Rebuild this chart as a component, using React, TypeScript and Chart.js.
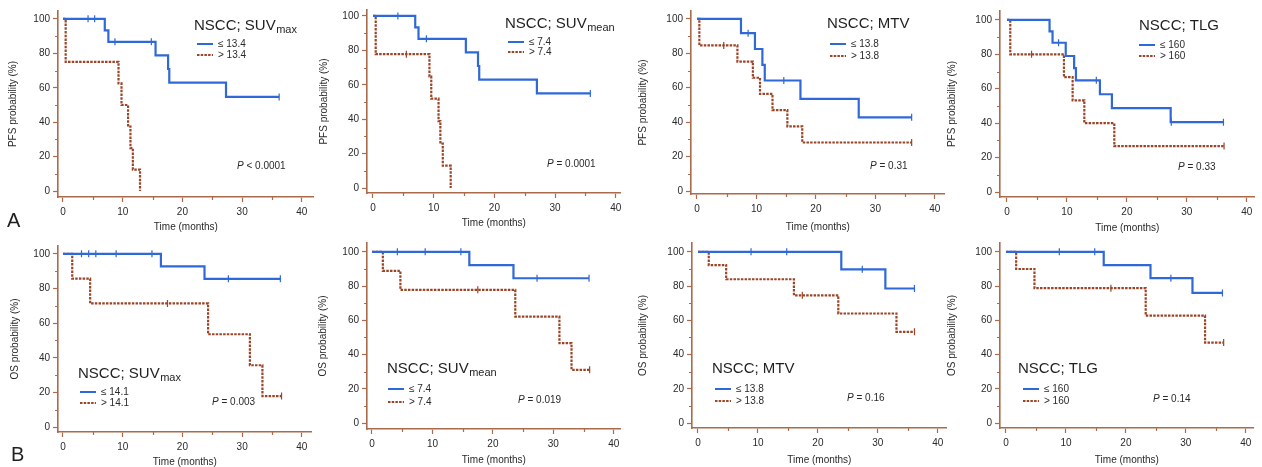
import React, { useEffect, useRef } from 'react';
import { Chart, registerables } from 'chart.js';

Chart.register(...registerables);

// ---------------- Data ----------------
const xTicks = [0, 10, 20, 30, 40];
const yTicks = [0, 20, 40, 60, 80, 100];
const xMinorTicks = [5, 15, 25, 35];
const yMinorTicks = [10, 30, 50, 70, 90];

const yTitles = ['PFS probability (%)', 'OS probability (%)'];
const xTitle = 'Time (months)';
const panelLetters = ['A', 'B'];

const titleMain = ['NSCC; SUV', 'NSCC; SUV', 'NSCC; MTV', 'NSCC; TLG', 'NSCC; SUV', 'NSCC; SUV', 'NSCC; MTV', 'NSCC; TLG'];
const titleSub = ['max', 'mean', '', '', 'max', 'mean', '', ''];
const lowLabels = ['≤ 13.4', '≤ 7.4', '≤ 13.8', '≤ 160', '≤ 14.1', '≤ 7.4', '≤ 13.8', '≤ 160'];
const highLabels = ['> 13.4', '> 7.4', '> 13.8', '> 160', '> 14.1', '> 7.4', '> 13.8', '> 160'];
const pTexts = ['< 0.0001', '= 0.0001', '= 0.31', '= 0.33', '= 0.003', '= 0.019', '= 0.16', '= 0.14'];

// Panel 1: PFS, SUVmax
const p1LowT = [0, 7.0, 7.6, 15.5, 17.6, 17.8, 27.3, 36.2];
const p1LowS = [100, 93.3, 86.7, 78.8, 70.9, 63.0, 54.7, 54.7];
const p1LowCT = [4.2, 5.3, 8.7, 14.8, 36.2];
const p1LowCS = [100, 100, 86.7, 86.7, 54.7];
const p1HighT = [0, 0.45, 9.3, 9.8, 10.9, 11.3, 11.7, 12.9];
const p1HighS = [100, 75, 62.5, 50, 37.5, 25, 12.5, 0];
const p1HighCT: number[] = [];
const p1HighCS: number[] = [];

// Panel 2: PFS, SUVmean
const p2LowT = [0, 6.96, 7.5, 15.3, 17.3, 17.5, 27.0, 35.8];
const p2LowS = [100, 93.3, 86.7, 78.8, 70.9, 63.0, 55.0, 55.0];
const p2LowCT = [4.1, 8.8, 35.8];
const p2LowCS = [100, 86.7, 55.0];
const p2HighT = [0, 0.45, 9.3, 9.6, 10.8, 11.1, 11.5, 12.8];
const p2HighS = [100, 77.8, 64.8, 51.9, 38.9, 25.9, 13.0, 0];
const p2HighCT = [5.5];
const p2HighCS = [77.8];

// Panel 3: PFS, MTV
const p3LowT = [0, 7.4, 9.75, 11.0, 11.4, 17.4, 27.2, 36.1];
const p3LowS = [100, 91.7, 82.5, 73.3, 64.2, 53.5, 42.8, 42.8];
const p3LowCT = [8.6, 14.6, 36.1];
const p3LowCS = [91.7, 64.2, 42.8];
const p3HighT = [0, 0.4, 6.8, 9.4, 10.6, 12.7, 15.2, 17.7, 36.1];
const p3HighS = [100, 84.6, 75.2, 65.8, 56.4, 47.0, 37.6, 28.2, 28.2];
const p3HighCT = [4.5, 36.1];
const p3HighCS = [84.6, 28.2];

// Panel 4: PFS, TLG
const p4LowT = [0, 7.1, 7.6, 9.8, 11.2, 11.5, 15.5, 17.5, 27.3, 36.1];
const p4LowS = [100, 93.3, 86.7, 79.0, 72.0, 64.9, 56.8, 48.7, 40.6, 40.6];
const p4LowCT = [8.6, 14.9, 27.4, 36.1];
const p4LowCS = [86.7, 64.9, 40.6, 40.6];
const p4HighT = [0, 0.55, 9.5, 10.95, 12.9, 17.9, 36.2];
const p4HighS = [100, 80, 66.7, 53.3, 40, 26.7, 26.7];
const p4HighCT = [4.1, 36.2];
const p4HighCS = [80, 26.7];

// Panel 5: OS, SUVmax
const p5LowT = [0, 16.4, 23.7, 36.4];
const p5LowS = [100, 92.8, 85.6, 85.6];
const p5LowCT = [3.1, 4.3, 5.5, 8.9, 14.9, 27.7, 36.4];
const p5LowCS = [100, 100, 100, 100, 100, 85.6, 85.6];
const p5HighT = [0, 1.55, 4.55, 24.3, 31.3, 33.4, 36.6];
const p5HighS = [100, 85.7, 71.4, 53.6, 35.7, 17.9, 17.9];
const p5HighCT = [17.5, 36.6];
const p5HighCS = [71.4, 17.9];

// Panel 6: OS, SUVmean
const p6LowT = [0, 16.1, 23.4, 35.9];
const p6LowS = [100, 92.3, 84.6, 84.6];
const p6LowCT = [4.2, 8.8, 14.7, 27.3, 35.9];
const p6LowCS = [100, 100, 100, 84.6, 84.6];
const p6HighT = [0, 1.8, 4.7, 23.7, 31.0, 33.0, 36.0];
const p6HighS = [100, 88.9, 77.8, 62.2, 46.7, 31.1, 31.1];
const p6HighCT = [17.5, 36.0];
const p6HighCS = [77.8, 31.1];

// Panel 7: OS, MTV
const p7LowT = [0, 23.9, 31.25, 36.1];
const p7LowS = [100, 89.8, 78.6, 78.6];
const p7LowCT = [8.85, 14.8, 27.4, 36.1];
const p7LowCS = [100, 100, 89.8, 78.6];
const p7HighT = [0, 1.8, 4.7, 16.0, 23.4, 33.1, 36.1];
const p7HighS = [100, 92.3, 84.0, 74.6, 64.0, 53.3, 53.3];
const p7HighCT = [17.4, 36.1];
const p7HighCS = [74.6, 53.3];

// Panel 8: OS, TLG
const p8LowT = [0, 16.3, 24.1, 31.1, 36.1];
const p8LowS = [100, 92.3, 84.6, 76.0, 76.0];
const p8LowCT = [8.9, 14.8, 27.5, 36.1];
const p8LowCS = [100, 100, 84.6, 76.0];
const p8HighT = [0, 1.7, 4.75, 23.3, 33.2, 36.3];
const p8HighS = [100, 90, 78.8, 62.8, 47.0, 47.0];
const p8HighCT = [17.5, 36.3];
const p8HighCS = [78.8, 47.0];

const panelData = [
  { lowT: p1LowT, lowS: p1LowS, lowCT: p1LowCT, lowCS: p1LowCS, highT: p1HighT, highS: p1HighS, highCT: p1HighCT, highCS: p1HighCS },
  { lowT: p2LowT, lowS: p2LowS, lowCT: p2LowCT, lowCS: p2LowCS, highT: p2HighT, highS: p2HighS, highCT: p2HighCT, highCS: p2HighCS },
  { lowT: p3LowT, lowS: p3LowS, lowCT: p3LowCT, lowCS: p3LowCS, highT: p3HighT, highS: p3HighS, highCT: p3HighCT, highCS: p3HighCS },
  { lowT: p4LowT, lowS: p4LowS, lowCT: p4LowCT, lowCS: p4LowCS, highT: p4HighT, highS: p4HighS, highCT: p4HighCT, highCS: p4HighCS },
  { lowT: p5LowT, lowS: p5LowS, lowCT: p5LowCT, lowCS: p5LowCS, highT: p5HighT, highS: p5HighS, highCT: p5HighCT, highCS: p5HighCS },
  { lowT: p6LowT, lowS: p6LowS, lowCT: p6LowCT, lowCS: p6LowCS, highT: p6HighT, highS: p6HighS, highCT: p6HighCT, highCS: p6HighCS },
  { lowT: p7LowT, lowS: p7LowS, lowCT: p7LowCT, lowCS: p7LowCS, highT: p7HighT, highS: p7HighS, highCT: p7HighCT, highCS: p7HighCS },
  { lowT: p8LowT, lowS: p8LowS, lowCT: p8LowCT, lowCS: p8LowCS, highT: p8HighT, highS: p8HighS, highCT: p8HighCT, highCS: p8HighCS },
];

// ---------------- Layout (page pixels) ----------------
type Layout = {
  axisX: number; x0: number; x40: number; rightEnd: number;
  topEnd: number; y100: number; y0: number; axisY: number;
  yTitleOff: number; xTitleOff: number;
  title: [number, number]; legend: [number, number, number]; p: [number, number];
};

const layouts: Layout[] = [
  { axisX: 58, x0: 63, x40: 303, rightEnd: 315, topEnd: 8, y100: 16, y0: 191, axisY: 197, yTitleOff: 45, xTitleOff: 30, title: [194, 30], legend: [197, 44, 55], p: [237, 166] },
  { axisX: 367, x0: 373, x40: 617, rightEnd: 622, topEnd: 7, y100: 13, y0: 188, axisY: 193, yTitleOff: 43, xTitleOff: 30, title: [505, 28], legend: [508, 42, 52], p: [547, 164] },
  { axisX: 691, x0: 697, x40: 936, rightEnd: 946, topEnd: 8, y100: 16, y0: 191, axisY: 194, yTitleOff: 48, xTitleOff: 33, title: [827, 28], legend: [830, 44, 56], p: [870, 166] },
  { axisX: 1000, x0: 1007, x40: 1248, rightEnd: 1256, topEnd: 8, y100: 17, y0: 192, axisY: 197, yTitleOff: 48, xTitleOff: 31, title: [1139, 30], legend: [1139, 45, 56], p: [1178, 167] },
  { axisX: 58, x0: 63, x40: 303, rightEnd: 313, topEnd: 243, y100: 251, y0: 427, axisY: 432, yTitleOff: 43, xTitleOff: 30, title: [78, 378], legend: [80, 392, 403], p: [212, 402] },
  { axisX: 367, x0: 372, x40: 615, rightEnd: 622, topEnd: 240, y100: 249, y0: 423, axisY: 429, yTitleOff: 44, xTitleOff: 31, title: [387, 373], legend: [388, 389, 402], p: [518, 400] },
  { axisX: 692, x0: 698, x40: 939, rightEnd: 948, topEnd: 240, y100: 249, y0: 423, axisY: 428, yTitleOff: 49, xTitleOff: 32, title: [712, 373], legend: [715, 389, 401], p: [847, 398] },
  { axisX: 1000, x0: 1006, x40: 1247, rightEnd: 1255, topEnd: 240, y100: 249, y0: 423, axisY: 428, yTitleOff: 48, xTitleOff: 32, title: [1018, 373], legend: [1023, 389, 401], p: [1153, 399] },
];

const AXIS = '#ab6a4a';
const BLUE = '#2f68d8';
const RED = '#9a4528';
const TEXT = '#2a2a2a';
const FONT = '"Liberation Sans", Arial, Helvetica, sans-serif';
const LW = 56;
const BH = 40;
const TP = 6;
const RP = 4;

const pts = (t: number[], s: number[]) => t.map((x, i) => ({ x, y: s[i] }));

function Panel({ idx }: { idx: number }) {
  const ref = useRef<HTMLCanvasElement>(null);
  const L = layouts[idx];
  const left = L.axisX - LW;
  const top = L.topEnd - TP;
  const width = L.rightEnd + RP - left;
  const height = L.axisY + BH - top;

  useEffect(() => {
    const d = panelData[idx];
    const pxX = (L.x40 - L.x0) / 40;
    const xMin = (L.axisX - L.x0) / pxX;
    const xMax = (L.rightEnd - L.x0) / pxX;
    const pxY = (L.y0 - L.y100) / 100;
    const yMin = -(L.axisY - L.y0) / pxY;
    const yMax = 100 + (L.y100 - L.topEnd) / pxY;

    const annot = {
      id: 'annot' + idx,
      afterDraw(chart: any) {
        const ctx = chart.ctx as CanvasRenderingContext2D;
        const xs = chart.scales.x;
        const ys = chart.scales.y;
        const ca = chart.chartArea;
        ctx.save();
        // minor ticks
        ctx.strokeStyle = AXIS;
        ctx.lineWidth = 1.2;
        ctx.beginPath();
        xMinorTicks.forEach((v) => {
          const px = Math.round(xs.getPixelForValue(v)) + 0.5;
          ctx.moveTo(px, ca.bottom);
          ctx.lineTo(px, ca.bottom + 3);
        });
        yMinorTicks.forEach((v) => {
          const py = Math.round(ys.getPixelForValue(v)) + 0.5;
          ctx.moveTo(ca.left, py);
          ctx.lineTo(ca.left - 3, py);
        });
        ctx.stroke();

        // title
        ctx.fillStyle = '#1f1f1f';
        ctx.textAlign = 'left';
        ctx.textBaseline = 'alphabetic';
        ctx.font = `15px ${FONT}`;
        const tx = L.title[0] - left;
        const ty = L.title[1] - top;
        ctx.fillText(titleMain[idx], tx, ty);
        if (titleSub[idx]) {
          const w = ctx.measureText(titleMain[idx]).width;
          ctx.font = `11px ${FONT}`;
          ctx.fillText(titleSub[idx], tx + w + 0.5, ty + 2.5);
        }

        // legend
        const lx = L.legend[0] - left;
        const ly1 = L.legend[1] - top;
        const ly2 = L.legend[2] - top;
        ctx.lineWidth = 2;
        ctx.strokeStyle = BLUE;
        ctx.setLineDash([]);
        ctx.beginPath();
        ctx.moveTo(lx, ly1);
        ctx.lineTo(lx + 16, ly1);
        ctx.stroke();
        ctx.strokeStyle = RED;
        ctx.setLineDash([2.5, 1.2]);
        ctx.beginPath();
        ctx.moveTo(lx, ly2);
        ctx.lineTo(lx + 16, ly2);
        ctx.stroke();
        ctx.setLineDash([]);
        ctx.fillStyle = TEXT;
        ctx.font = `10px ${FONT}`;
        ctx.textBaseline = 'middle';
        ctx.fillText(lowLabels[idx], lx + 21, ly1);
        ctx.fillText(highLabels[idx], lx + 21, ly2);

        // P value
        const px0 = L.p[0] - left;
        const py0 = L.p[1] - top;
        ctx.font = `italic 10px ${FONT}`;
        ctx.fillText('P', px0, py0);
        const pw = ctx.measureText('P').width;
        ctx.font = `10px ${FONT}`;
        ctx.fillText(' ' + pTexts[idx], px0 + pw, py0);
        ctx.restore();
      },
    };

    const chart = new Chart(ref.current as HTMLCanvasElement, {
      type: 'line',
      data: {
        datasets: [
          { data: pts(d.lowT, d.lowS), borderColor: BLUE, borderWidth: 2.2, stepped: true, pointRadius: 0, fill: false } as any,
          { data: pts(d.highT, d.highS), borderColor: RED, borderWidth: 2.2, borderDash: [2.5, 1.2], stepped: true, pointRadius: 0, fill: false } as any,
          { data: pts(d.lowCT, d.lowCS), showLine: false, pointStyle: 'line', rotation: 90, pointRadius: 3.5, borderColor: BLUE, backgroundColor: BLUE, borderWidth: 1.2 } as any,
          { data: pts(d.highCT, d.highCS), showLine: false, pointStyle: 'line', rotation: 90, pointRadius: 3.5, borderColor: RED, backgroundColor: RED, borderWidth: 1.2 } as any,
        ],
      },
      options: {
        animation: false,
        responsive: false,
        devicePixelRatio: 1,
        layout: { padding: { left: 0, top: TP, right: RP, bottom: 0 } },
        plugins: { legend: { display: false }, tooltip: { enabled: false } },
        scales: {
          x: {
            type: 'linear',
            min: xMin,
            max: xMax,
            afterBuildTicks: (s: any) => { s.ticks = xTicks.map((v) => ({ value: v })); },
            afterFit: (s: any) => { s.height = BH; },
            ticks: { autoSkip: false, maxRotation: 0, padding: 4, color: TEXT, font: { size: 10, family: FONT } },
            grid: { display: true, drawOnChartArea: false, drawTicks: true, tickLength: 5, tickColor: AXIS, tickWidth: 1.2 },
            border: { display: true, color: AXIS, width: 1.6 },
            title: { display: true, text: xTitle, color: TEXT, font: { size: 10, family: FONT }, padding: { top: 0, bottom: BH - L.xTitleOff - 6 } },
          },
          y: {
            type: 'linear',
            min: yMin,
            max: yMax,
            afterBuildTicks: (s: any) => { s.ticks = yTicks.map((v) => ({ value: v })); },
            afterFit: (s: any) => { s.width = LW; },
            ticks: { autoSkip: false, padding: 3, color: TEXT, font: { size: 10, family: FONT } },
            grid: { display: true, drawOnChartArea: false, drawTicks: true, tickLength: 5, tickColor: AXIS, tickWidth: 1.2 },
            border: { display: true, color: AXIS, width: 1.6 },
            title: { display: true, text: yTitles[idx < 4 ? 0 : 1], color: TEXT, font: { size: 10, family: FONT }, padding: { top: LW - L.yTitleOff - 6, bottom: 0 } },
          },
        },
      } as any,
      plugins: [annot],
    });
    return () => chart.destroy();
  }, [idx]);

  return (
    <canvas
      ref={ref}
      width={width}
      height={height}
      style={{ position: 'absolute', left, top, width, height }}
    />
  );
}

export default function App() {
  return (
    <div style={{ position: 'absolute', left: 0, top: 0, width: 1262, height: 467, overflow: 'hidden', background: '#fff', fontFamily: FONT }}>
      {layouts.map((_, i) => <Panel key={i} idx={i} />)}
      <div style={{ position: 'absolute', left: 7, top: 210, fontSize: 20, lineHeight: '20px', color: '#1f1f1f' }}>{panelLetters[0]}</div>
      <div style={{ position: 'absolute', left: 11, top: 444, fontSize: 20, lineHeight: '20px', color: '#1f1f1f' }}>{panelLetters[1]}</div>
    </div>
  );
}
